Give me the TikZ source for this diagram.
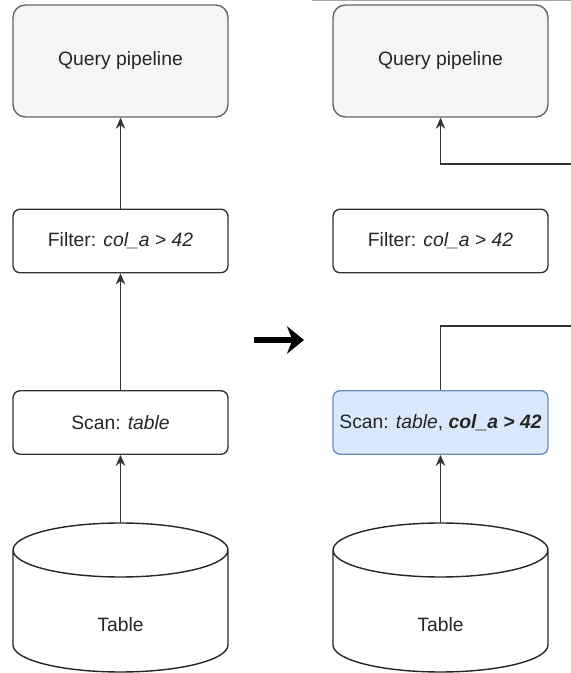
\documentclass[tikz,border=0pt]{standalone}
\usepackage{fontspec}
\setmainfont{Liberation Sans}
\usetikzlibrary{arrows.meta}
\definecolor{qpfill}{HTML}{F5F5F5}
\definecolor{qpline}{HTML}{666666}
\definecolor{scfill}{HTML}{DAE8FC}
\definecolor{scline}{HTML}{6C8EBF}

\begin{document}
\begin{tikzpicture}[x=0.02cm,y=0.02cm,
  txt/.style={font=\fontsize{11}{13}\selectfont,text=black!85},
  qbox/.style={txt,draw=qpline,fill=qpfill,line width=0.8pt,rounded corners=7pt,minimum width=4.3cm,minimum height=2.24cm},
  sbox/.style={txt,draw=black!80,fill=white,line width=0.8pt,rounded corners=4pt,minimum width=4.3cm,minimum height=1.27cm},
  hbox/.style={sbox,draw=scline,fill=scfill},
  cyl/.style={draw=black!85,fill=white,line width=0.8pt},
  conn/.style={draw=black!80,line width=0.8pt,-{Stealth[length=0.22cm,width=0.19cm]}},
  wire/.style={draw=black!80,line width=0.8pt},
  bigarrow/.style={line width=3.2pt,-{Stealth[length=0.34cm,width=0.55cm]}}]
\clip (0,0) rectangle (571,673);
\draw[black!35,line width=0.6pt] (312,672.3) -- (571,672.3);

\node[qbox] (qpL) at (120.5,612) {Query pipeline};
\node[sbox] (filL) at (120.5,432) {Filter: \textit{col\_a > 42}};
\node[sbox] (scanL) at (120.5,250.5) {Scan: \textit{table}};
\draw[cyl] (13,123) -- (13,28) arc[start angle=180,end angle=360,x radius=2.15cm,y radius=0.54cm] -- (228,123) arc[start angle=0,end angle=360,x radius=2.15cm,y radius=0.54cm];
\node[txt] (tabL) at (120.5,48) {Table};
\coordinate (tabLtop) at (120.5,150);
\draw[conn] (tabLtop) -- (scanL.south);
\draw[conn] (scanL.north) -- (filL.south);
\draw[conn] (filL.north) -- (qpL.south);

\coordinate (mA) at (254,333);
\coordinate (mB) at (304,333);
\draw[bigarrow] (mA) -- (mB);

\node[qbox] (qpR) at (440.5,612) {Query pipeline};
\node[sbox] (filR) at (440.5,432) {Filter: \textit{col\_a > 42}};
\node[hbox] (scanR) at (440.5,250.5) {Scan: \textit{table}, \textbf{\textit{col\_a > 42}}};
\draw[cyl] (333,123) -- (333,28) arc[start angle=180,end angle=360,x radius=2.15cm,y radius=0.54cm] -- (548,123) arc[start angle=0,end angle=360,x radius=2.15cm,y radius=0.54cm];
\node[txt] (tabR) at (440.5,48) {Table};
\coordinate (tabRtop) at (440.5,150);
\coordinate (outlo) at (590,347);
\coordinate (outhi) at (590,509);
\draw[conn] (tabRtop) -- (scanR.south);
\draw[wire] (scanR.north) |- (outlo);
\draw[conn] (outhi) -| (qpR.south);
\end{tikzpicture}
\end{document}
